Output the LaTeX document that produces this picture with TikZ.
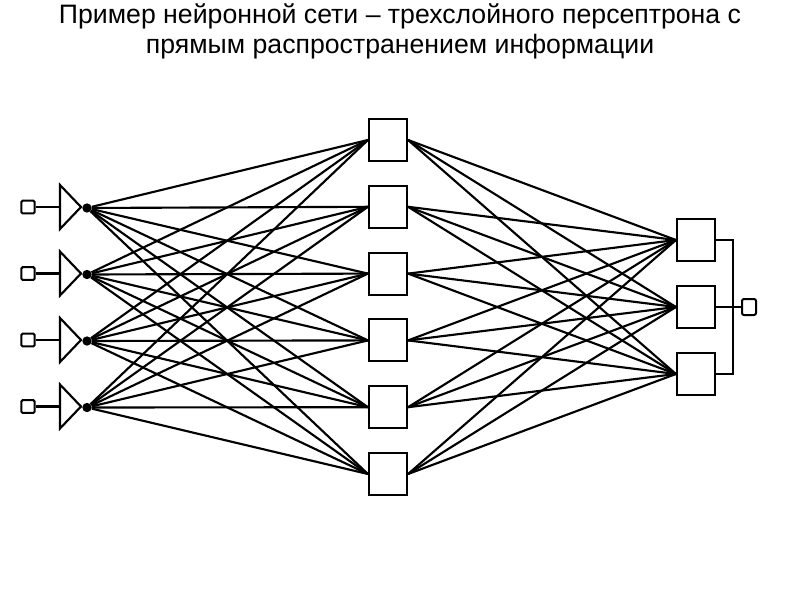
\documentclass[tikz,border=0pt]{standalone}
\usepackage{fontspec}
\setmainfont{Liberation Sans}
\usetikzlibrary{positioning}
\tikzset{
  lnk/.style={line width=1.6pt,black},
  neu/.style={rectangle,draw,line width=1.6pt,minimum width=28.5pt,minimum height=31.5pt,inner sep=0pt},
  pin/.style={rectangle,draw,line width=1.5pt,minimum width=10pt,minimum height=9.5pt,inner sep=0pt,rounded corners=1pt},
  dot/.style={circle,fill=black,minimum size=7pt,inner sep=0pt}
}
\begin{document}
\begin{tikzpicture}[x=0.75pt,y=-0.75pt]
\useasboundingbox (0,0) rectangle (800,600);
\node (ttl1) [anchor=base,font=\fontsize{20}{24}\selectfont] at (400,23) {Пример нейронной сети – трехслойного персептрона с};
\node (ttl2) [anchor=base,font=\fontsize{20}{24}\selectfont] at (400,53) {прямым распространением информации};
% входной слой
\foreach \i in {1,...,4}{
  \pgfmathsetmacro{\yy}{207+66.5*(\i-1)}
  \node (x\i) [pin] at (28,\yy) {};
  \coordinate (t\i) at (60,\yy);
  \draw[lnk] (x\i.east) -- (t\i);
  \draw[lnk,line join=miter] (60,\yy-22) -- (81,\yy) -- (60,\yy+22) -- cycle;
  \node (d\i) [dot] at (87,\yy+1) {};
}
% скрытый слой
\foreach \j in {1,...,6}
  \node (h\j) [neu] at (388,{140+66.8*(\j-1)}) {};
% выходной слой
\foreach \k in {1,...,3}
  \node (o\k) [neu] at (696,{240+67*(\k-1)}) {};
\foreach \i in {1,...,4}
  \foreach \j in {1,...,6}
    \draw[lnk] (d\i) -- (h\j.west);
\foreach \j in {1,...,6}
  \foreach \k in {1,...,3}
    \draw[lnk] (h\j.east) -- (o\k.west);
% выход
\node (y) [pin,minimum width=10.5pt,minimum height=12pt,rounded corners=1.5pt] at (749,307) {};
\draw[lnk] (o1.east) -| (733,307) |- (o3.east);
\draw[lnk] (o2.east) -- (y.west);
\end{tikzpicture}
\end{document}
